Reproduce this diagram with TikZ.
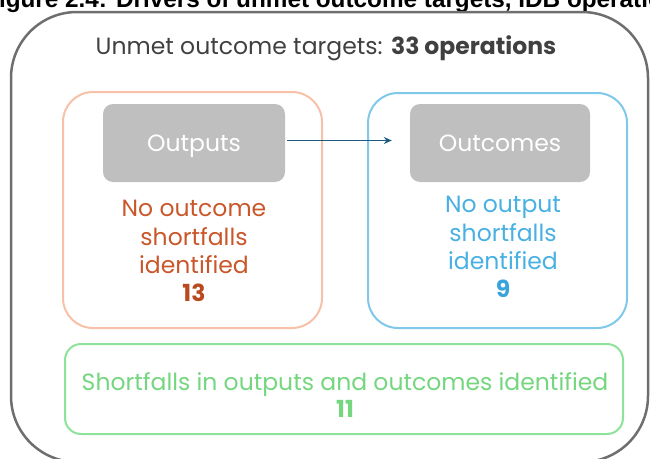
\documentclass[tikz,border=0pt]{standalone}
\usepackage{fontspec}
\setmainfont{Poppins}
\newfontfamily\titlefont{Liberation Sans}
\usetikzlibrary{arrows.meta}
\definecolor{framegray}{HTML}{6E6E6E}
\definecolor{headtext}{HTML}{404040}
\definecolor{boxgray}{HTML}{BFBFBF}
\definecolor{orline}{HTML}{F6C1A8}
\definecolor{ortext}{HTML}{C9572A}
\definecolor{ornum}{HTML}{B84A1E}
\definecolor{blline}{HTML}{7FC8EA}
\definecolor{bltext}{HTML}{48B0E2}
\definecolor{blnum}{HTML}{3AA3DB}
\definecolor{grline}{HTML}{8EE39A}
\definecolor{grtext}{HTML}{74D67E}
\definecolor{arrowblue}{HTML}{1D5A80}
\tikzset{
  panel/.style={draw, line width=2pt, rounded corners=30pt, inner sep=0pt},
  graybox/.style={fill=boxgray, rounded corners=10pt, minimum width=182pt,
    minimum height=78pt, inner sep=0pt, text=white, text height=19pt, text depth=3pt,
    font=\fontsize{23.5}{28}\selectfont},
  bodytext/.style={align=center, inner sep=0pt, font=\fontsize{23.5}{28.5}\selectfont},
}
\begin{document}
\begin{tikzpicture}[x=1pt,y=-1pt]
\useasboundingbox (0,0) rectangle (650,458);
\begin{scope}
\clip (0,0) rectangle (650,458);
% figure caption, running above the page edge
\node[anchor=base west, inner sep=0pt, font=\titlefont\bfseries\fontsize{24.3}{28}\selectfont]
  (caption) at (-16,7) {Figure 2.4: Drivers of unmet outcome targets, IDB operations};
% outer frame
\draw[framegray, line width=2.5pt, rounded corners=66pt] (11,12) rectangle (648,462);
\end{scope}

\node[headtext, font=\fontsize{23.5}{28}\selectfont] (head) at (326,48)
  {Unmet outcome targets: \textbf{33 operations}};

% left panel: outputs
\node[panel, orline, minimum width=259pt, minimum height=236pt] (left) at (192.5,210) {};
\node[graybox] (outputs) at (194,143) {Outputs};
\node[bodytext, ortext] (lefttext) at (194,251)
  {No outcome\\shortfalls\\identified\\[-1pt]{\color{ornum}\bfseries 13}};

% right panel: outcomes
\node[panel, blline, minimum width=259pt, minimum height=235pt] (right) at (497.5,210.5) {};
\node[graybox, minimum width=180pt] (outcomes) at (500,143) {Outcomes};
\node[bodytext, bltext] (righttext) at (503,247)
  {No output\\shortfalls\\identified\\[-1pt]{\color{blnum}\bfseries 9}};

% link between the two stages
\draw[arrowblue, line width=1.6pt, -{Stealth[length=8pt,width=7pt]},
  shorten <=2pt, shorten >=18pt]
  ([yshift=2.5pt]outputs.east) -- ([yshift=2.5pt]outcomes.west);

% bottom panel: both
\node[panel, grline, rounded corners=16pt, minimum width=558pt, minimum height=90pt] (bottom) at (344,389) {};
\node[bodytext, grtext] (bottomtext) at (345,395)
  {Shortfalls in outputs and outcomes identified\\[-1pt]{\bfseries 11}};
\end{tikzpicture}
\end{document}
